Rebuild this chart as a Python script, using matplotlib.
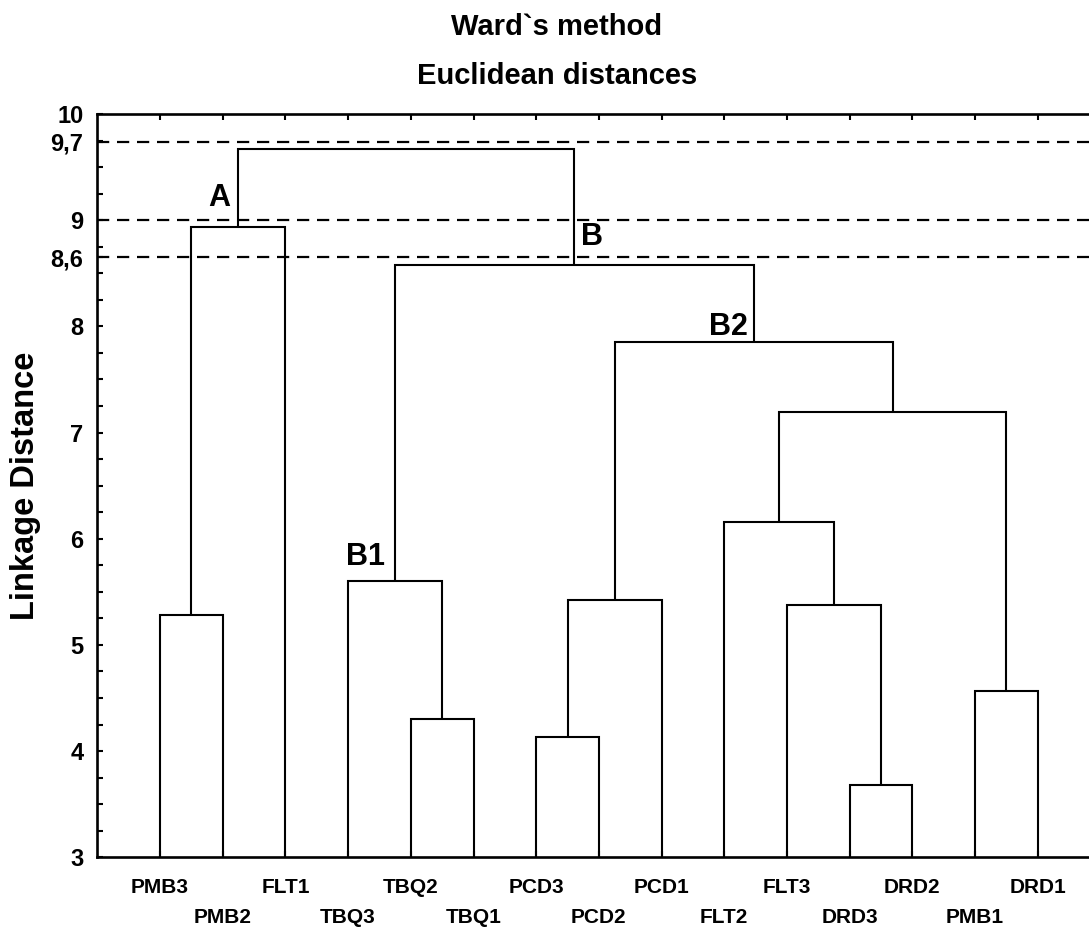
import matplotlib
matplotlib.use("Agg")
import matplotlib.pyplot as plt
from matplotlib.ticker import FixedLocator, MultipleLocator

plt.rcParams["font.family"] = ["Liberation Sans", "DejaVu Sans"]
plt.rcParams["font.weight"] = "bold"

# leaves in the order they appear along the x axis
leaf_labels = ["PMB3", "PMB2", "FLT1", "TBQ3", "TBQ2", "TBQ1", "PCD3", "PCD2",
               "PCD1", "FLT2", "FLT3", "DRD3", "DRD2", "PMB1", "DRD1"]

# merges: (left id, right id, linkage distance); ids >= 15 are earlier merges
merge_left = [0, 4, 6, 11, 13, 10, 9, 21, 17, 23, 3, 25, 15, 27]
merge_right = [1, 5, 7, 12, 14, 18, 20, 19, 8, 22, 16, 24, 2, 26]
merge_height = [5.28, 4.30, 4.13, 3.68, 4.57, 5.38, 6.16, 7.19,
                5.42, 7.85, 5.60, 8.58, 8.94, 9.67]

# cut levels drawn as dashed lines
cut_levels = [9.74, 9.0, 8.65]
cut_labels = ["9,7", "9", "8,6"]

y_major = [3, 4, 5, 6, 7, 8, 10]
cluster_names = ["A", "B", "B1", "B2"]

# where the cluster names sit (data coords)
name_xy = {"A": (1.95, 9.21), "B": (7.89, 8.84), "B1": (4.27, 5.83), "B2": (10.07, 7.99)}

W, H = 1089, 927
fig = plt.figure(figsize=(W / 100, H / 100), dpi=100)
ax = fig.add_axes([97.3 / W, (H - 857.3) / H, 1003.2 / W, (857.3 - 114) / H])
ax.set_xlim(0, 16)
ax.set_ylim(3, 10)

n = len(leaf_labels)
xpos = {i: i + 1 for i in range(n)}
ypos = {i: 3.0 for i in range(n)}
for k, (a, b, h) in enumerate(zip(merge_left, merge_right, merge_height)):
    ax.plot([xpos[a], xpos[a], xpos[b], xpos[b]], [ypos[a], h, h, ypos[b]],
            color="black", lw=1.5, solid_joinstyle="miter", solid_capstyle="butt")
    xpos[n + k] = (xpos[a] + xpos[b]) / 2
    ypos[n + k] = h

for lev in cut_levels:
    ax.axhline(lev, color="black", lw=1.6, dashes=(5.5, 3.5))

for name in cluster_names:
    x, y = name_xy[name]
    ax.text(x, y, name, ha="center", va="center", fontsize=22, fontweight="bold")

# y axis: uneven major ticks incl. cut levels
yt = y_major + cut_levels
yl = [str(v) for v in y_major] + cut_labels
order = sorted(range(len(yt)), key=lambda i: yt[i])
ax.yaxis.set_major_locator(FixedLocator([yt[i] for i in order]))
ax.set_yticklabels([yl[i] for i in order])
ax.yaxis.set_minor_locator(MultipleLocator(0.25))
ax.tick_params(axis="y", which="both", direction="in", length=4, width=1.5,
               labelsize=17, pad=10, right=False)

# x axis: leaf labels staggered in two rows
ax.set_xticks(range(1, n + 1))
ax.set_xticklabels([lab if i % 2 == 0 else "\n" + lab for i, lab in enumerate(leaf_labels)])
ax.tick_params(axis="x", direction="in", length=4, width=1.5, top=True,
               labelsize=15, pad=15)
for t in ax.get_xticklabels():
    t.set_linespacing(1.75)
    t.set_fontweight("bold")
for t in ax.get_yticklabels():
    t.set_fontweight("bold")

for s in ax.spines.values():
    s.set_linewidth(1.9)

fig.text(557 / W, 1 - 27 / H, "Ward`s method", ha="center", va="center",
         fontsize=21, fontweight="bold")
fig.text(557 / W, 1 - 76 / H, "Euclidean distances", ha="center", va="center",
         fontsize=21, fontweight="bold")
fig.text(26 / W, 1 - 486 / H, "Linkage Distance", rotation=90, ha="center",
         va="center", fontsize=23.5, fontweight="bold")

fig.savefig("out.png", dpi=100)
